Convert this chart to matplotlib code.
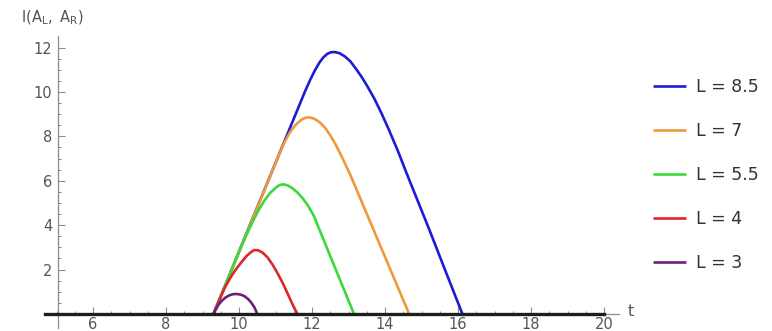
import matplotlib
matplotlib.use("Agg")
import matplotlib.pyplot as plt

plt.rcParams["mathtext.fontset"] = "dejavusans"

# I(A_L, A_R) against t, one curve per interval length L
t_85 = [9.3, 10.3, 11.3, 11.8, 11.95, 12.08, 12.2, 12.31, 12.42, 12.52, 12.62, 12.75, 12.9, 13.05,
        13.2, 13.35, 13.5, 13.7, 13.9, 14.1, 14.35, 14.6, 15.2, 15.7, 16.12]
i_85 = [0, 4.02, 8.0, 10.0, 10.55, 10.98, 11.32, 11.56, 11.72, 11.79, 11.8, 11.75, 11.6, 11.38,
        11.05, 10.7, 10.3, 9.72, 9.05, 8.32, 7.35, 6.3, 3.85, 1.75, 0]

t_7 = [9.3, 10.3, 10.9, 11.1, 11.25, 11.4, 11.55, 11.7, 11.82, 11.92, 12.05, 12.2, 12.35, 12.5,
       12.65, 12.8, 13.05, 13.6, 14.1, 14.66]
i_7 = [0, 4.0, 6.4, 7.2, 7.75, 8.2, 8.52, 8.74, 8.84, 8.86, 8.8, 8.65, 8.4, 8.05,
       7.62, 7.13, 6.26, 4.12, 2.18, 0]

t_55 = [9.3, 9.95, 10.2, 10.4, 10.55, 10.7, 10.85, 11.0, 11.1, 11.2, 11.32, 11.45, 11.6, 11.75,
        11.9, 12.05, 12.5, 13.15]
i_55 = [0, 2.6, 3.55, 4.25, 4.72, 5.12, 5.45, 5.68, 5.8, 5.84, 5.8, 5.68, 5.47, 5.2,
        4.85, 4.42, 2.6, 0]

t_4 = [9.3, 9.45, 9.6, 9.75, 9.9, 10.05, 10.2, 10.32, 10.42, 10.52, 10.64, 10.78, 10.92, 11.06,
       11.2, 11.35, 11.48, 11.6]
i_4 = [0, 0.6, 1.15, 1.6, 1.98, 2.3, 2.6, 2.78, 2.88, 2.87, 2.77, 2.55, 2.22, 1.82,
       1.38, 0.85, 0.38, 0]

t_3 = [9.3, 9.36, 9.44, 9.52, 9.62, 9.72, 9.83, 9.94, 10.05, 10.15, 10.25, 10.34, 10.42, 10.5]
i_3 = [0, 0.2, 0.42, 0.58, 0.73, 0.83, 0.89, 0.9, 0.87, 0.8, 0.67, 0.5, 0.3, 0]

labels = ["L = 8.5", "L = 7", "L = 5.5", "L = 4", "L = 3"]
colors = ["#1c1cd6", "#f0993a", "#3ada3a", "#dc2828", "#6c1f7c"]
curves = [(t_85, i_85), (t_7, i_7), (t_55, i_55), (t_4, i_4), (t_3, i_3)]

x_ticks = [6, 8, 10, 12, 14, 16, 18, 20]
y_ticks = [2, 4, 6, 8, 10, 12]

fig = plt.figure(figsize=(7.72, 3.31), dpi=100)
ax = fig.add_axes([0.0496, 0.0045, 0.7565, 0.9121])
ax.set_xlim(4.5, 20.5)
ax.set_ylim(-0.7, 12.9)

axis_grey = "#8c8c8c"
text_grey = "#555555"

handles = []
for (t, i), c, lab in zip(curves, colors, labels):
    h, = ax.plot(t, i, color=c, lw=1.9, label=lab, solid_joinstyle="round",
                 solid_capstyle="butt", zorder=3)
    handles.append(h)

# the zero stretch of all curves along the t axis
ax.plot([4.68, 20.0], [0, 0], color="#1e1e1e", lw=2.4, zorder=4)

for s in ["top", "right"]:
    ax.spines[s].set_visible(False)
ax.spines["left"].set_position(("data", 5.04))
ax.spines["bottom"].set_position(("data", 0))
ax.spines["left"].set_bounds(-0.62, 12.52)
ax.spines["bottom"].set_bounds(4.68, 20.4)
for s in ["left", "bottom"]:
    ax.spines[s].set_color(axis_grey)
    ax.spines[s].set_linewidth(0.9)

ax.set_xticks(x_ticks)
ax.set_yticks(y_ticks)
ax.set_xticks([x / 2 for x in range(10, 41)], minor=True)
ax.set_yticks([y / 2 for y in range(1, 25)], minor=True)
ax.tick_params(which="major", direction="in", length=5, width=0.8, color=axis_grey,
               labelcolor=text_grey, labelsize=10.5)
ax.tick_params(which="minor", direction="in", length=2.5, width=0.7, color=axis_grey)
ax.tick_params(axis="x", pad=2)
ax.tick_params(axis="y", pad=4)

fig.text(21 / 772, 1 - 18 / 331, r"$\mathrm{I(A_L,\ A_R)}$", color=text_grey,
         fontsize=10.5, va="center", ha="left")
fig.text(628 / 772, 1 - 312 / 331, "t", color=text_grey, fontsize=11.5,
         va="center", ha="left")

fig.legend(handles=handles, labels=labels, loc="upper left",
           bbox_to_anchor=(653 / 772, 1 - 78 / 331), frameon=False,
           fontsize=12.5, handlelength=1.9, handletextpad=0.6,
           labelspacing=1.5, borderpad=0, borderaxespad=0, labelcolor="#333333")

fig.savefig("out.png", dpi=100)
